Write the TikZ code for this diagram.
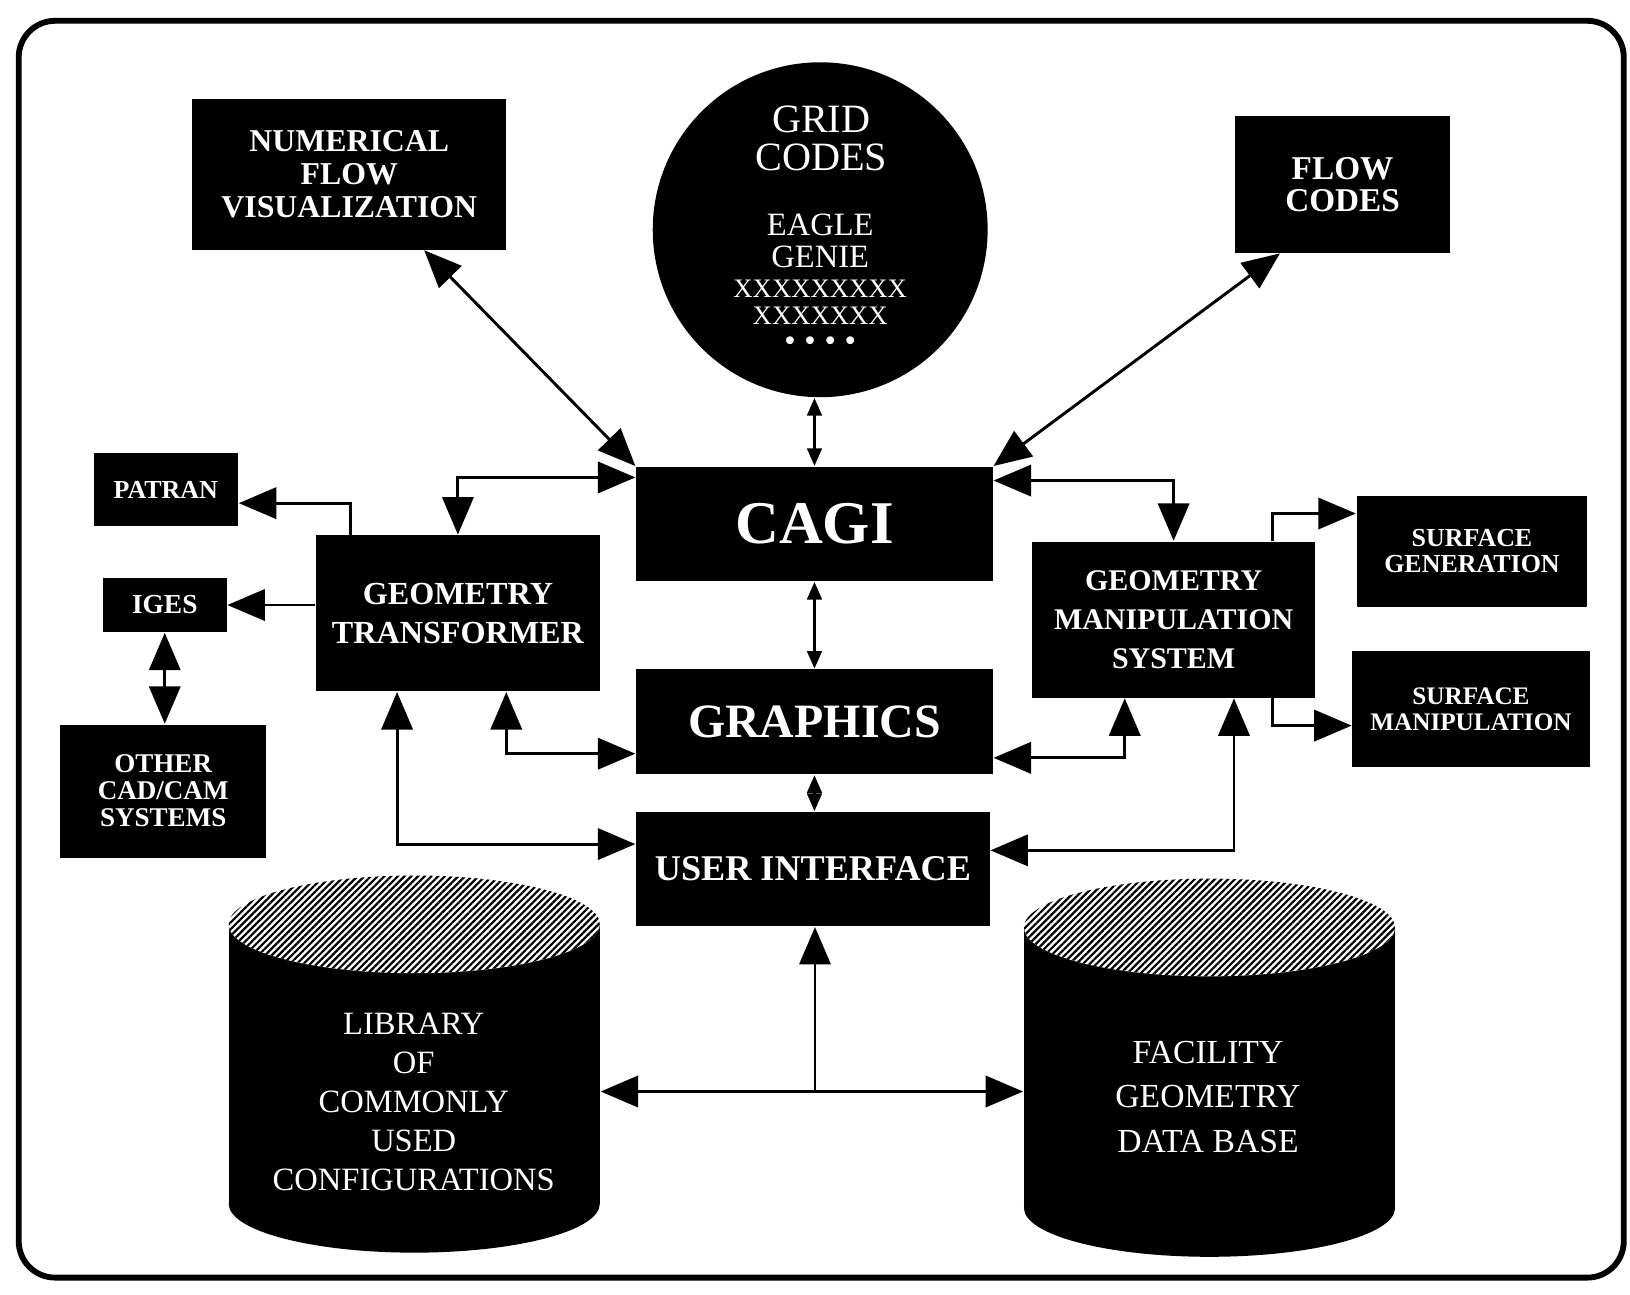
\documentclass[tikz,border=0pt]{standalone}
\usepackage{fontspec}
\setmainfont{Liberation Serif}
\usetikzlibrary{arrows.meta,patterns.meta}

\begin{document}
\begin{tikzpicture}[x=0.01cm,y=-0.01cm,
    box/.style={fill=black,text=white,inner sep=0pt,align=center},
    dbtext/.style={text=white,inner sep=0pt,align=center},
    arr/.style={line width=0.8pt,>={Triangle[length=0.36cm,width=0.3cm]}},
    sarr/.style={line width=0.8pt,{Triangle[length=0.17cm,width=0.14cm]}-{Triangle[length=0.17cm,width=0.14cm]}},
    hatch/.style={pattern={Lines[angle=45,distance=1.3pt,line width=0.6pt]}}]
\useasboundingbox (0,0) rectangle (1568,1245);
\draw[line width=1.6pt,rounded corners=0.35cm] (18,20) rectangle (1562,1229);

% top row
\node[box,minimum width=3.02cm,minimum height=1.45cm,font=\bfseries\fontsize{8.7}{9.1}\selectfont] (nfv) at (336,167.5) {NUMERICAL\\FLOW\\VISUALIZATION};
\node[circle,fill=black,minimum size=3.22cm,inner sep=0pt] (grid) at (789,221) {};
\node[dbtext,font=\fontsize{11}{10.5}\selectfont] (gridhead) at (790,133) {GRID\\CODES};
\node[dbtext,font=\fontsize{8.9}{8.8}\selectfont] (gridlist) at (789,272) {EAGLE\\GENIE\\[-0.5pt]{\fontsize{7.3}{7.3}\selectfont XXXXXXXXX}\\[-1.4pt]{\fontsize{7.3}{7.3}\selectfont XXXXXXX}\\[-1.4pt]\textbullet\hspace{2.4pt}\textbullet\hspace{2.4pt}\textbullet\hspace{2.4pt}\textbullet};
\node[box,minimum width=2.07cm,minimum height=1.31cm,font=\bfseries\fontsize{9.1}{8.8}\selectfont] (flow) at (1291.5,177.5) {FLOW\\CODES};

% middle column
\node[box,minimum width=3.43cm,minimum height=1.10cm,font=\bfseries\fontsize{16.6}{17}\selectfont] (cagi) at (783.5,504) {CAGI};
\node[box,minimum width=3.43cm,minimum height=1.01cm,font=\bfseries\fontsize{13.1}{14}\selectfont] (graphics) at (783.5,694.5) {GRAPHICS};
\node[box,minimum width=3.40cm,minimum height=1.10cm,font=\bfseries\fontsize{9.9}{11}\selectfont] (ui) at (782,836) {USER INTERFACE};

% left side
\node[box,minimum width=2.73cm,minimum height=1.50cm,font=\bfseries\fontsize{8.8}{10.5}\selectfont] (gt) at (440.5,590) {GEOMETRY\\TRANSFORMER};
\node[box,minimum width=1.39cm,minimum height=0.70cm,font=\bfseries\fontsize{7.1}{8}\selectfont] (patran) at (159.5,471) {PATRAN};
\node[box,minimum width=1.19cm,minimum height=0.52cm,font=\bfseries\fontsize{7.5}{8}\selectfont] (iges) at (158.5,582) {IGES};
\node[box,minimum width=1.98cm,minimum height=1.28cm,font=\bfseries\fontsize{7.4}{7.4}\selectfont] (other) at (157,761) {OTHER\\CAD/CAM\\SYSTEMS};

% right side
\node[box,minimum width=2.72cm,minimum height=1.50cm,font=\bfseries\fontsize{8.2}{10.7}\selectfont] (gms) at (1129,596) {GEOMETRY\\MANIPULATION\\SYSTEM};
\node[box,minimum width=2.22cm,minimum height=1.07cm,font=\bfseries\fontsize{7.1}{7.1}\selectfont] (sg) at (1416,530.5) {SURFACE\\GENERATION};
\node[box,minimum width=2.28cm,minimum height=1.12cm,font=\bfseries\fontsize{6.9}{7.1}\selectfont] (sm) at (1415,682) {SURFACE\\MANIPULATION};

% data bases
\fill (398.5,1158) ellipse[x radius=178.5,y radius=47];
\node[fill=black,minimum width=3.57cm,minimum height=2.68cm,inner sep=0pt] (lib) at (398.5,1024) {};
\fill[white] (lib.north) ellipse[x radius=178.5,y radius=47];
\fill[hatch] (lib.north) ellipse[x radius=178.5,y radius=47];
\node[dbtext,font=\fontsize{8.9}{10.7}\selectfont] (libtext) at (398,1060) {LIBRARY\\OF\\COMMONLY\\USED\\CONFIGURATIONS};

\fill (1163.5,1162) ellipse[x radius=178.5,y radius=47];
\node[fill=black,minimum width=3.57cm,minimum height=2.69cm,inner sep=0pt] (fac) at (1163.5,1027.5) {};
\fill[white] (fac.north) ellipse[x radius=178.5,y radius=47];
\fill[hatch] (fac.north) ellipse[x radius=178.5,y radius=47];
\node[dbtext,font=\fontsize{9.2}{12.2}\selectfont] (factext) at (1162,1055) {FACILITY\\GEOMETRY\\DATA BASE};

% connectors
\draw[arr,<->] ([xshift=0.72cm]nfv.south) -- (cagi.north west);
\draw[sarr] (cagi.north |- grid.south) -- (cagi.north);
\draw[arr,<->] ([xshift=0.44cm]flow.south west) -- (cagi.north east);
\draw[sarr] (cagi.south) -- (graphics.north);
\draw[sarr] (graphics.south) -- (graphics.south |- ui.north);

\draw[arr,<->] ([yshift=-0.11cm]cagi.north west) -| (gt.north);
\draw[arr,->] ([xshift=0.34cm]gt.north west) |- ([yshift=-0.13cm]patran.east);
\draw[arr,->] (gt.west |- iges) -- (iges.east);
\draw[arr,<->] (iges.south) -- (iges.south |- other.north);
\draw[arr,<->] ([xshift=0.465cm]gt.south) |- ([yshift=-0.305cm]graphics.west);
\draw[arr,<->] ([xshift=-0.585cm]gt.south) |- ([yshift=0.24cm]ui.west);

\draw[arr,<->] ([yshift=-0.14cm]cagi.north east) -| (gms.north);
\draw[arr,->] ([xshift=-0.42cm]gms.north east) |- ([yshift=0.365cm]sg.west);
\draw[arr,->] ([xshift=-0.42cm]gms.south east) |- ([yshift=-0.16cm]sm.west);
\draw[arr,<->] ([xshift=-0.47cm]gms.south) |- ([yshift=-0.345cm]graphics.east);
\draw[arr,<->] ([xshift=0.58cm]gms.south) |- ([yshift=0.18cm]ui.east);

\coordinate (hub) at (784,1050);
\draw[arr,->] (hub) -- (hub |- ui.south);
\draw[arr,<->] (lib.east |- hub) -- (fac.west |- hub);
\end{tikzpicture}
\end{document}
